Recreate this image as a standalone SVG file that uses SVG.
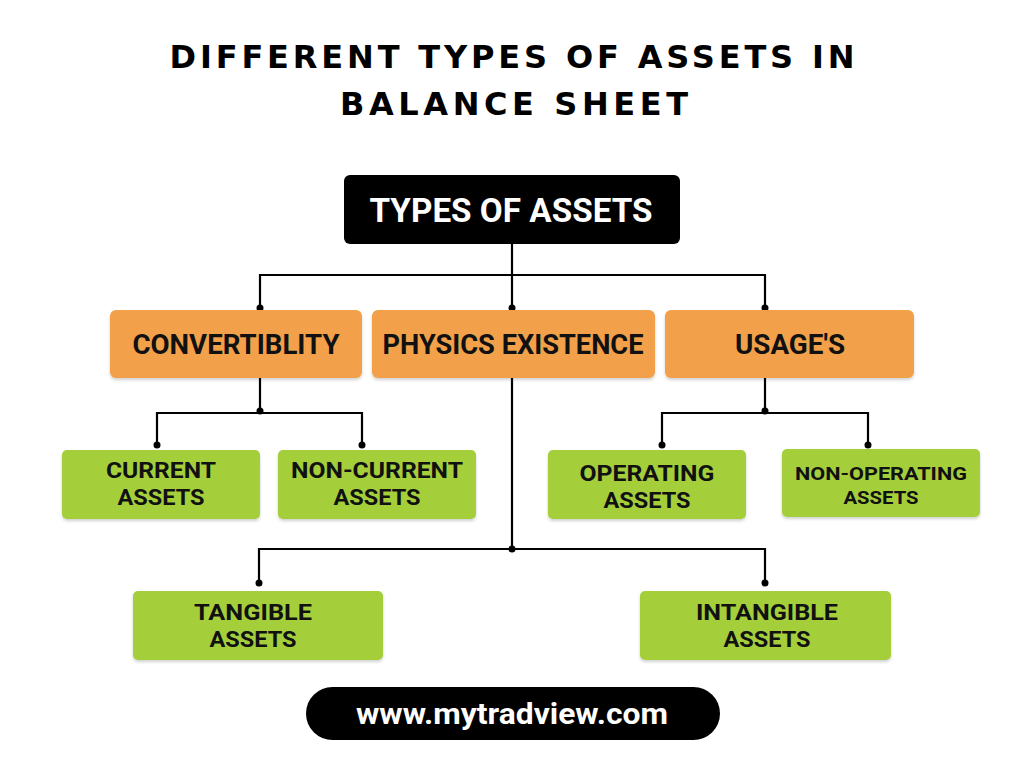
<svg xmlns="http://www.w3.org/2000/svg" width="1024" height="768" viewBox="0 0 1024 768">
<defs>
<style>
.title{font-family:"DejaVu Sans","Liberation Sans",sans-serif;font-weight:bold;font-size:32px;fill:#000;text-anchor:middle}
.lbl{font-family:"Liberation Sans Narrow","Roboto","DejaVu Sans Condensed",sans-serif;font-weight:bold;fill:#111;text-anchor:middle}
.orange{fill:#F2A049}
.green{fill:#A4CF3A}
.conn{fill:none;stroke:#000;stroke-width:2.2}
.dot{fill:#000}
</style>
<filter id="sh" x="-10%" y="-10%" width="120%" height="130%">
<feDropShadow dx="0" dy="2" stdDeviation="1.5" flood-color="#000" flood-opacity="0.18"/>
</filter>
</defs>
<rect width="1024" height="768" fill="#fff"/>
<g id="title">
<text class="title" x="512" y="68" textLength="685" lengthAdjust="spacing">DIFFERENT TYPES OF ASSETS IN</text>
<text class="title" x="514" y="115" textLength="348" lengthAdjust="spacing">BALANCE SHEET</text>
</g>
<g id="connectors">
<path class="conn" d="M512 244V549M260 308V275H765V308M512 275V308M260 378V413M157 445V413H362V445M765 378V413M662 445V413H868V445M259 583V549H765V583"/>
<circle class="dot" cx="260" cy="308" r="3.5"/>
<circle class="dot" cx="512" cy="308" r="3.5"/>
<circle class="dot" cx="765" cy="308" r="3.5"/>
<circle class="dot" cx="260" cy="411" r="3.5"/>
<circle class="dot" cx="157" cy="445" r="3.5"/>
<circle class="dot" cx="362" cy="445" r="3.5"/>
<circle class="dot" cx="765" cy="411" r="3.5"/>
<circle class="dot" cx="662" cy="445" r="3.5"/>
<circle class="dot" cx="868" cy="445" r="3.5"/>
<circle class="dot" cx="512" cy="549" r="3.5"/>
<circle class="dot" cx="259" cy="583" r="3.5"/>
<circle class="dot" cx="765" cy="583" r="3.5"/>
</g>
<g id="types-of-assets">
<rect x="344" y="175" width="336" height="69" rx="6" fill="#000"/>
<text class="lbl" x="511" y="222" font-size="33" style="fill:#fff" textLength="283" lengthAdjust="spacingAndGlyphs">TYPES OF ASSETS</text>
</g>
<g id="convertibility">
<rect class="orange" x="110" y="310" width="252" height="68" rx="6" filter="url(#sh)"/>
<text class="lbl" x="236" y="354" font-size="27" textLength="207" lengthAdjust="spacingAndGlyphs">CONVERTIBLITY</text>
</g>
<g id="physics-existence">
<rect class="orange" x="372" y="310" width="283" height="68" rx="6" filter="url(#sh)"/>
<text class="lbl" x="513" y="354" font-size="27" textLength="261" lengthAdjust="spacingAndGlyphs">PHYSICS EXISTENCE</text>
</g>
<g id="usages">
<rect class="orange" x="665" y="310" width="249" height="68" rx="6" filter="url(#sh)"/>
<text class="lbl" x="790" y="354" font-size="27" textLength="110" lengthAdjust="spacingAndGlyphs">USAGE'S</text>
</g>
<g id="current-assets">
<rect class="green" x="62" y="450" width="198" height="69" rx="5" filter="url(#sh)"/>
<text class="lbl" x="161" y="478" font-size="22" textLength="110" lengthAdjust="spacingAndGlyphs">CURRENT</text>
<text class="lbl" x="161" y="505" font-size="22" textLength="87" lengthAdjust="spacingAndGlyphs">ASSETS</text>
</g>
<g id="non-current-assets">
<rect class="green" x="278" y="450" width="198" height="69" rx="5" filter="url(#sh)"/>
<text class="lbl" x="377" y="478" font-size="22" textLength="172" lengthAdjust="spacingAndGlyphs">NON-CURRENT</text>
<text class="lbl" x="377" y="505" font-size="22" textLength="87" lengthAdjust="spacingAndGlyphs">ASSETS</text>
</g>
<g id="operating-assets">
<rect class="green" x="548" y="450" width="198" height="69" rx="5" filter="url(#sh)"/>
<text class="lbl" x="647" y="481" font-size="22" textLength="135" lengthAdjust="spacingAndGlyphs">OPERATING</text>
<text class="lbl" x="647" y="508" font-size="22" textLength="87" lengthAdjust="spacingAndGlyphs">ASSETS</text>
</g>
<g id="non-operating-assets">
<rect class="green" x="782" y="449" width="198" height="68" rx="5" filter="url(#sh)"/>
<text class="lbl" x="881" y="480" font-size="19" textLength="172" lengthAdjust="spacingAndGlyphs">NON-OPERATING</text>
<text class="lbl" x="881" y="504" font-size="19" textLength="75" lengthAdjust="spacingAndGlyphs">ASSETS</text>
</g>
<g id="tangible-assets">
<rect class="green" x="133" y="591" width="250" height="69" rx="5" filter="url(#sh)"/>
<text class="lbl" x="253" y="620" font-size="22" textLength="118" lengthAdjust="spacingAndGlyphs">TANGIBLE</text>
<text class="lbl" x="253" y="647" font-size="22" textLength="87" lengthAdjust="spacingAndGlyphs">ASSETS</text>
</g>
<g id="intangible-assets">
<rect class="green" x="640" y="591" width="251" height="69" rx="5" filter="url(#sh)"/>
<text class="lbl" x="767" y="620" font-size="22" textLength="142" lengthAdjust="spacingAndGlyphs">INTANGIBLE</text>
<text class="lbl" x="767" y="647" font-size="22" textLength="87" lengthAdjust="spacingAndGlyphs">ASSETS</text>
</g>
<g id="website">
<rect x="306" y="687" width="414" height="53" rx="26.5" fill="#000"/>
<text class="lbl" x="512" y="724" font-size="29" style="fill:#fff" textLength="312" lengthAdjust="spacingAndGlyphs">www.mytradview.com</text>
</g>
</svg>
